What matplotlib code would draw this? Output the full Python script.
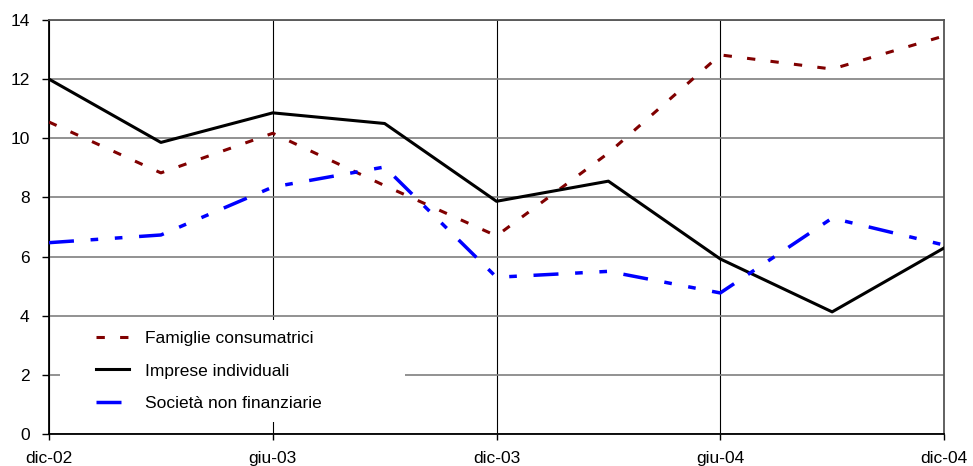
import matplotlib.pyplot as plt
from matplotlib.patches import Rectangle

plt.rcParams['font.family'] = ['Liberation Sans', 'DejaVu Sans']
plt.rcParams['lines.scale_dashes'] = False

# quarterly observations, dic-02 .. dic-04
periodi = ['dic-02', 'mar-03', 'giu-03', 'set-03', 'dic-03',
           'mar-04', 'giu-04', 'set-04', 'dic-04']
famiglie = [10.55, 8.83, 10.17, 8.40, 6.70, 9.50, 12.82, 12.34, 13.46]
imprese = [12.00, 9.86, 10.86, 10.50, 7.87, 8.55, 5.92, 4.13, 6.29]
societa = [6.47, 6.73, 8.35, 9.03, 5.30, 5.50, 4.77, 7.30, 6.39]

tick_pos = [0, 2, 4, 6, 8]
tick_lab = ['dic-02', 'giu-03', 'dic-03', 'giu-04', 'dic-04']
y_ticks = [0, 2, 4, 6, 8, 10, 12, 14]

x = list(range(len(periodi)))

fig = plt.figure(figsize=(9.73, 4.66), dpi=100)
ax = fig.add_axes([49 / 973, 32 / 466, 895 / 973, 414 / 466])
ax.set_axisbelow(True)

ax.plot(x, famiglie, color='#800000', lw=2.2, dashes=(6, 11),
        label='Famiglie consumatrici', zorder=3)
ax.plot(x, imprese, color='black', lw=2.2,
        label='Imprese individuali', zorder=3)
ax.plot(x, societa, color='#0000ff', lw=2.5, dashes=(18, 12, 5.5, 12, 5.5, 12),
        label='Società non finanziarie', zorder=3)

ax.set_xlim(0, 8)
ax.set_ylim(0, 14)
ax.set_xticks(tick_pos)
ax.set_xticklabels(tick_lab)
ax.set_yticks(y_ticks)

# horizontal grid in grey, vertical grid thin black
ax.yaxis.grid(True, color='#7f7f7f', lw=1.2)
ax.xaxis.grid(True, color='black', lw=0.8)

for s in ['left', 'bottom']:
    ax.spines[s].set_color('black')
    ax.spines[s].set_linewidth(1.3)
for s in ['top', 'right']:
    ax.spines[s].set_color('#555555')
    ax.spines[s].set_linewidth(1.3)

ax.tick_params(axis='y', direction='out', length=5, width=1, pad=9, labelsize=12.5)
ax.tick_params(axis='x', direction='out', length=4, width=1, pad=8, labelsize=12.5)

# white patch behind the legend hides the grid
ax.add_patch(Rectangle((0.0123, 0.028), 0.386, 0.248, transform=ax.transAxes,
                       facecolor='white', edgecolor='none', zorder=1))

ax.legend(loc='upper left', bbox_to_anchor=(0.053, 0.25), frameon=False,
          fontsize=12.5, handlelength=1.9, handletextpad=0.9, labelspacing=1.02,
          borderpad=0, borderaxespad=0)

fig.savefig('out.png', dpi=100)
